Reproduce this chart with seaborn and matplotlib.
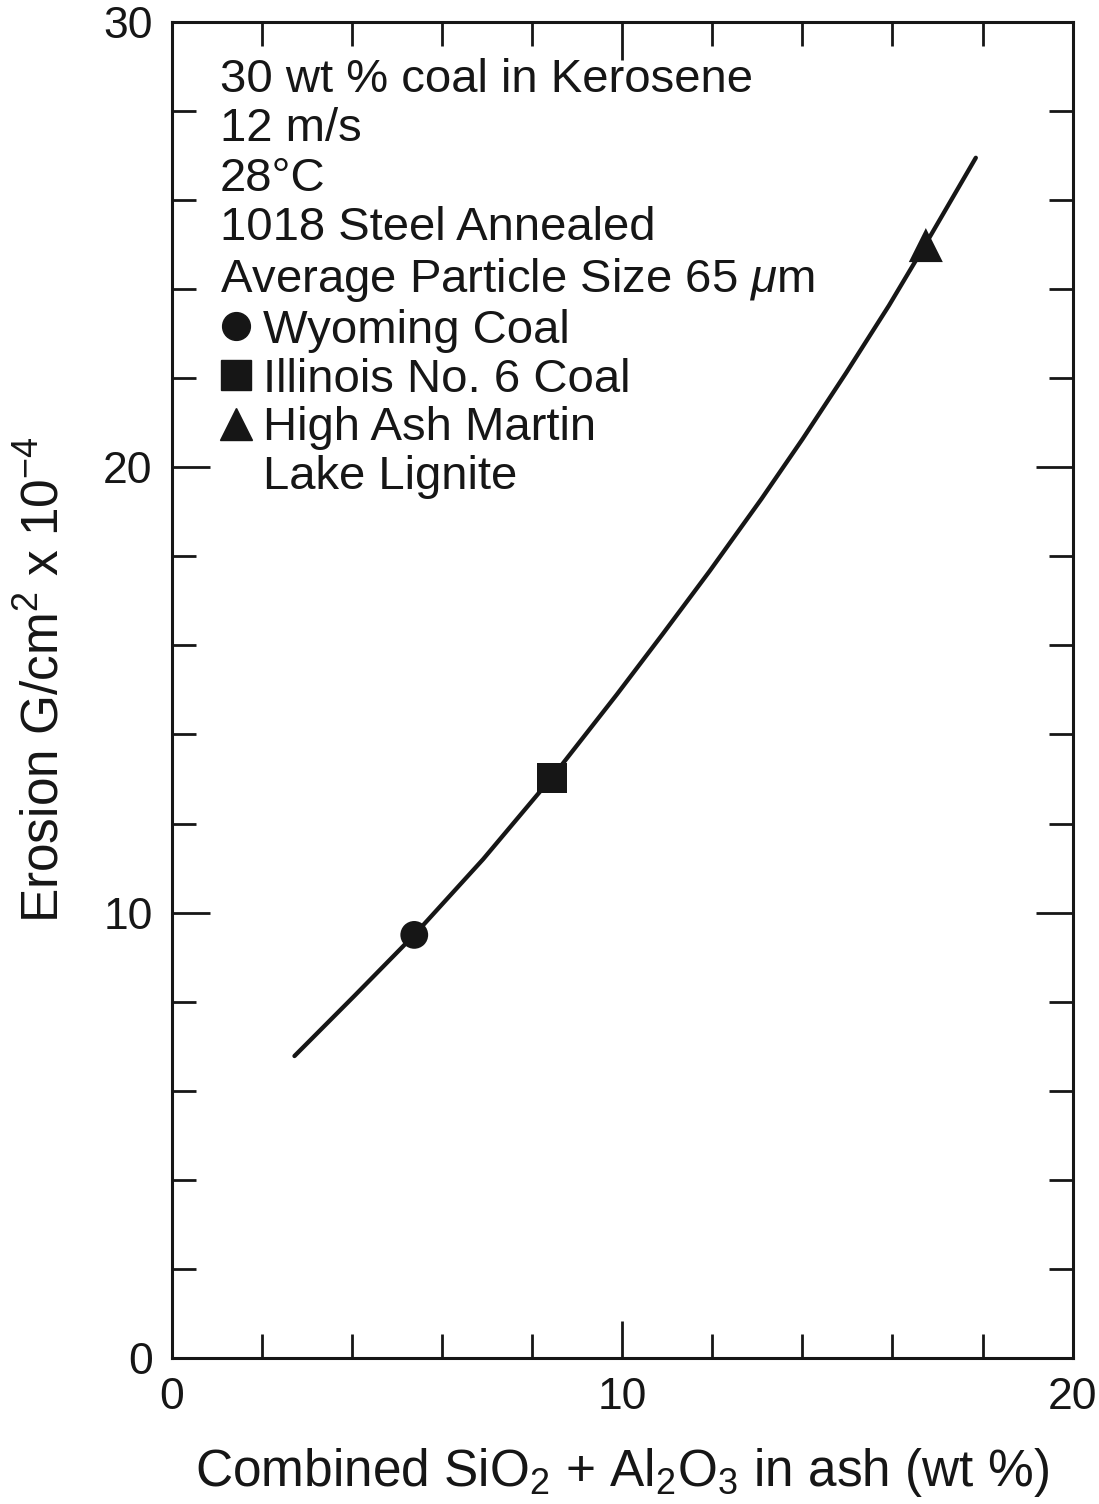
import matplotlib
matplotlib.use("Agg")
import matplotlib.pyplot as plt
import seaborn as sns
import pandas as pd
from matplotlib.lines import Line2D
from matplotlib.ticker import MultipleLocator

# ---- data ----
coal_names = ["Wyoming Coal", "Illinois No. 6 Coal", "High Ash Martin Lake Lignite"]
coal_x = [5.38, 8.44, 16.74]
coal_y = [9.50, 13.02, 24.99]

curve_x = [2.72, 4.05, 5.38, 6.91, 8.44, 9.88, 10.90, 11.94, 13.09, 14.00, 14.97, 15.92, 16.74, 17.85]
curve_y = [6.78, 8.13, 9.50, 11.20, 13.04, 14.90, 16.26, 17.67, 19.29, 20.63, 22.12, 23.63, 25.02, 26.95]

conditions = ["30 wt % coal in Kerosene", "12 m/s", "28°C", "1018 Steel Annealed",
              "Average Particle Size 65 $\\mu$m"]
x_ticks_labeled = [0, 10, 20]
y_ticks_labeled = [0, 10, 20, 30]

sns.set_theme(style="ticks")
plt.rcParams["font.family"] = ["Liberation Sans", "DejaVu Sans"]
plt.rcParams["mathtext.fontset"] = "custom"
plt.rcParams["mathtext.rm"] = "Liberation Sans"
plt.rcParams["mathtext.it"] = "Liberation Sans:italic"

INK = "#161616"

fig = plt.figure(figsize=(10.99, 15.04), dpi=100)
ax = fig.add_axes([0.1565, 0.0971, 0.8195, 0.8883])

curve_df = pd.DataFrame({"x": curve_x, "y": curve_y})
sns.lineplot(data=curve_df, x="x", y="y", sort=False, color=INK, lw=3.1, ax=ax, zorder=2)
ax.lines[-1].set_solid_joinstyle("round")

pts = pd.DataFrame({"x": coal_x, "y": coal_y, "coal": coal_names})
marker_map = {coal_names[0]: "o", coal_names[1]: "s", coal_names[2]: "^"}
size_map = {coal_names[0]: 400, coal_names[1]: 470, coal_names[2]: 600}
for name in coal_names:
    sub = pts[pts.coal == name]
    sns.scatterplot(data=sub, x="x", y="y", marker=marker_map[name], s=size_map[name],
                    color=INK, edgecolor="none", ax=ax, zorder=3, legend=False)

ax.set_xlim(0, 20)
ax.set_ylim(0, 30)
ax.xaxis.set_minor_locator(MultipleLocator(2))
ax.yaxis.set_minor_locator(MultipleLocator(2))
ax.set_xticks(x_ticks_labeled)
ax.set_yticks(y_ticks_labeled)
ax.set_xticklabels([str(v) for v in x_ticks_labeled])
ax.set_yticklabels([str(v) for v in y_ticks_labeled])
ax.tick_params(which="both", direction="in", top=True, right=True, color=INK,
               labelsize=32, labelcolor=INK)
ax.tick_params(which="major", length=27, width=2.0, pad=14)
ax.tick_params(which="minor", length=17, width=2.0)
for sp in ax.spines.values():
    sp.set_linewidth(2.2)
    sp.set_color(INK)
    sp.set_visible(True)

ax.set_xlabel("Combined SiO$_2$ + Al$_2$O$_3$ in ash (wt %)", fontsize=37, color=INK, labelpad=20)
ax.set_ylabel("Erosion G/cm$^2$ x 10$^{-4}$", fontsize=37, color=INK)
ax.yaxis.set_label_coords(-0.114, 0.5075)

handles = [Line2D([], [], ls="none", marker=marker_map[n], color=INK,
                  markersize=(20 if i == 0 else 21 if i == 1 else 23)) for i, n in enumerate(coal_names)]
handles.append(Line2D([], [], ls="none"))
labels = ["Wyoming Coal", "Illinois No. 6 Coal", "High Ash Martin", "Lake Lignite"]
leg = ax.legend(handles, labels, title="\n".join(conditions), loc="upper left",
                bbox_to_anchor=(0.053, 0.973), frameon=False, fontsize=34, title_fontsize=34,
                handlelength=0.7, handletextpad=0.22, labelspacing=0.1, borderpad=0,
                borderaxespad=0, alignment="left")
leg.get_title().set_linespacing(1.16)
leg.get_title().set_color(INK)
for t in leg.get_texts():
    t.set_color(INK)

fig.savefig("out.png", dpi=100, facecolor="white")
